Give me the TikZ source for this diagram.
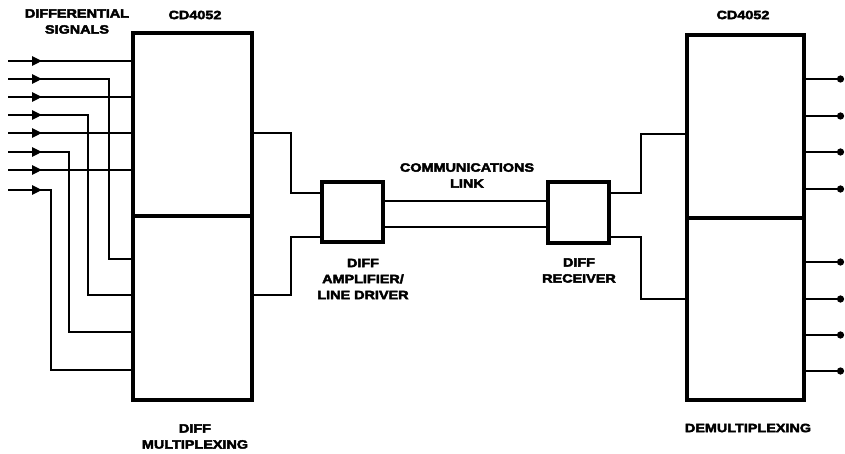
\documentclass[tikz,border=0pt]{standalone}
\usepackage{fontspec}
\newfontfamily\lab{Liberation Sans}[UprightFont={* Bold}, FakeStretch=1.2, FakeBold=3.5]
\usetikzlibrary{arrows.meta}
\begin{document}
\begin{tikzpicture}[x=1pt,y=-1pt,
  blk/.style={draw, line width=4.4pt, rectangle, inner sep=0pt},
  sig/.style={line width=2.7pt, line join=miter},
  tip/.style={sig, -{Triangle[length=10pt,width=9pt]}},
  outln/.style={sig, -{Circle[length=7pt,width=7pt]}},
  txt/.style={font=\lab\fontsize{12}{16}\selectfont, align=center, inner sep=0pt}]
\useasboundingbox (0,0) rectangle (845,454);
% boxes
\node[blk, minimum width=119pt, minimum height=183pt] (muxU) at (192.5,124.5) {};
\node[blk, minimum width=119pt, minimum height=184pt] (muxL) at (192.5,308) {};
\node[blk, minimum width=61pt, minimum height=60pt] (amp) at (352.5,212) {};
\node[blk, minimum width=61pt, minimum height=61pt] (rx) at (578.5,212.5) {};
\node[blk, minimum width=117pt, minimum height=183pt] (dmxU) at (745.5,126.5) {};
\node[blk, minimum width=117pt, minimum height=182pt] (dmxL) at (745.5,309) {};
% input coordinates
\coordinate (i1) at (8,61);
\coordinate (i2) at (8,79);
\coordinate (i3) at (8,97);
\coordinate (i4) at (8,115);
\coordinate (i5) at (8,133);
\coordinate (i6) at (8,152);
\coordinate (i7) at (8,170);
\coordinate (i8) at (8,190);
\coordinate (b2) at (109,259);
\coordinate (b4) at (88,295);
\coordinate (b6) at (69,332);
\coordinate (b8) at (51,370);
% inputs
\draw[sig] (i1) -- (i1 -| muxU.west);
\draw[sig] (i3) -- (i3 -| muxU.west);
\draw[sig] (i5) -- (i5 -| muxU.west);
\draw[sig] (i7) -- (i7 -| muxU.west);
\draw[sig] (i2) -| (b2) -- (b2 -| muxL.west);
\draw[sig] (i4) -| (b4) -- (b4 -| muxL.west);
\draw[sig] (i6) -| (b6) -- (b6 -| muxL.west);
\draw[sig] (i8) -| (b8) -- (b8 -| muxL.west);
\foreach \i in {1,...,8} {\draw[tip] (i\i) -- ++(34,0);}
% mux to amplifier
\coordinate (j1) at (291,133);
\coordinate (j2) at (291,193);
\coordinate (j3) at (291,237);
\coordinate (j4) at (291,295);
\draw[sig] (muxU.east |- j1) -- (j1) -- (j2) -- (j2 -| amp.west);
\draw[sig] (amp.west |- j3) -- (j3) -- (j4) -- (j4 -| muxL.east);
% communications link
\coordinate (l1) at (465,201);
\coordinate (l2) at (465,227);
\draw[sig] (l1 -| amp.east) -- (l1 -| rx.west);
\draw[sig] (l2 -| amp.east) -- (l2 -| rx.west);
% receiver to demux
\coordinate (k1) at (641,193);
\coordinate (k2) at (641,134);
\coordinate (k3) at (641,237);
\coordinate (k4) at (641,299);
\draw[sig] (rx.east |- k1) -- (k1) -- (k2) -- (k2 -| dmxU.west);
\draw[sig] (rx.east |- k3) -- (k3) -- (k4) -- (k4 -| dmxL.west);
% outputs
\coordinate (o1) at (844,79);
\coordinate (o2) at (844,116);
\coordinate (o3) at (844,152);
\coordinate (o4) at (844,189);
\coordinate (o5) at (844,262);
\coordinate (o6) at (844,299);
\coordinate (o7) at (844,335);
\coordinate (o8) at (844,371);
\draw[outln] (o1 -| dmxU.east) -- (o1);
\draw[outln] (o2 -| dmxU.east) -- (o2);
\draw[outln] (o3 -| dmxU.east) -- (o3);
\draw[outln] (o4 -| dmxU.east) -- (o4);
\draw[outln] (o5 -| dmxL.east) -- (o5);
\draw[outln] (o6 -| dmxL.east) -- (o6);
\draw[outln] (o7 -| dmxL.east) -- (o7);
\draw[outln] (o8 -| dmxL.east) -- (o8);
% labels
\node[txt] (tdiff) at (77,21.5) {DIFFERENTIAL\\SIGNALS};
\node[txt] (tcd1) at (195,15) {CD4052};
\node[txt] (tcd2) at (743,15) {CD4052};
\node[txt] (tlink) at (467,175.5) {COMMUNICATIONS\\LINK};
\node[txt] (tamp) at (363,279) {DIFF\\AMPLIFIER/\\LINE DRIVER};
\node[txt] (trx) at (579,270.5) {DIFF\\RECEIVER};
\node[txt] (tmux) at (195,436.5) {DIFF\\MULTIPLEXING};
\node[txt] (tdmx) at (748,428) {DEMULTIPLEXING};
\end{tikzpicture}
\end{document}
